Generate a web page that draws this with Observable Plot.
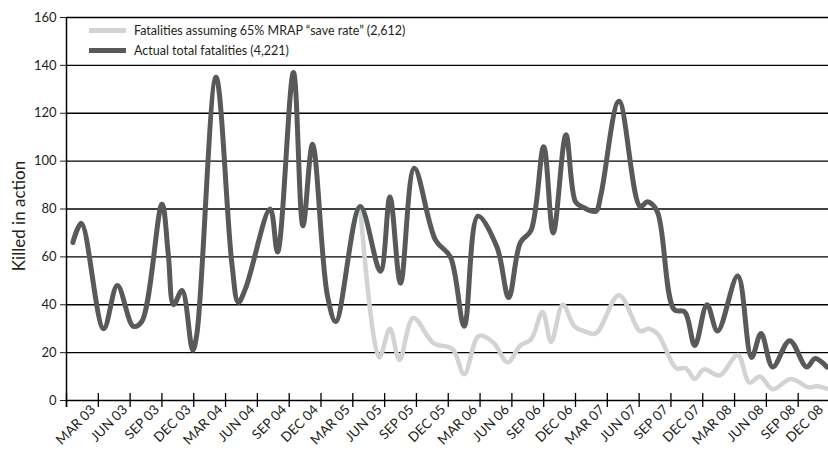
<!DOCTYPE html>
<html>
<head>
<meta charset="utf-8">
<script src="https://cdn.jsdelivr.net/npm/d3@7"></script>
<script src="https://cdn.jsdelivr.net/npm/@observablehq/plot@0.6"></script>
<style>
  html, body { margin: 0; padding: 0; background: #fff; }
  #wrap { position: relative; width: 828px; height: 450px; font-family: Lato, "Open Sans", sans-serif; color: #231f20; }
  #ytitle { position: absolute; left: 18px; top: 216px; transform: translate(-50%, -50%) rotate(-90deg); font-size: 17px; white-space: nowrap; }
  #legend { position: absolute; left: 89px; top: 20px; font-size: 12.5px; }
  .row { display: flex; align-items: center; height: 20.5px; white-space: nowrap; }
  .sw { width: 37px; height: 5px; margin-right: 8px; }
</style>
</head>
<body>
<div id="wrap">
  <div id="chart"></div>
  <div id="ytitle">Killed in action</div>
  <div id="legend">
    <div class="row"><div class="sw" style="background:#d1d3d4"></div><span>Fatalities assuming 65% MRAP “save rate” (2,612)</span></div>
    <div class="row"><div class="sw" style="background:#58595b"></div><span>Actual total fatalities (4,221)</span></div>
  </div>
</div>
<script>
// month index: 0 = start of axis (Jan 2003 boundary), 3 = "MAR 03" label, ... 72 = "DEC 08"
const quarterLabels = ["MAR 03","JUN 03","SEP 03","DEC 03","MAR 04","JUN 04","SEP 04","DEC 04",
  "MAR 05","JUN 05","SEP 05","DEC 05","MAR 06","JUN 06","SEP 06","DEC 06",
  "MAR 07","JUN 07","SEP 07","DEC 07","MAR 08","JUN 08","SEP 08","DEC 08"];
const quarterTicks = d3.range(0, 73, 3);
const labelTicks = quarterTicks.slice(1);
const yTicks = [0, 20, 40, 60, 80, 100, 120, 140, 160];

// Actual total fatalities (dark line)
const actualMonth = [0.6,1.4,3.5,4.8,6.3,7.1,9.0,9.6,10.1,10.9,11.9,12.3,14.1,15.6,16.2,16.9,19.2,19.9,21.4,22.3,23.2,24.6,25.4,27.7,29.6,30.5,31.5,32.8,34.8,36.2,37.5,38.8,40.6,41.7,42.8,43.8,45.0,45.9,47.1,48.0,48.6,49.9,50.4,52.1,54.1,54.8,55.7,57.3,58.3,59.25,60.4,61.4,63.3,64.6,65.5,66.6,68.2,69.8,70.6,71.7];
const actualValue = [66,74,30,48,31,33,82,61,40,46,21,28,135,57,41,47,80,62,137,73,107,44,33,81,54,85,49,97,67,60,31,77,64,43,66,71,106,70,111,83,81,79,86,125,81,83,79,38,37,23,40,29,52,18,28,14,25,14,17.5,14];

// Fatalities assuming 65% MRAP "save rate" (light line)
const mrapMonth = [27.7,29.5,30.5,31.4,32.7,34.6,36.4,37.5,38.9,40.3,41.6,42.8,43.8,44.9,45.7,46.8,47.9,48.8,49.9,52.1,54.1,54.9,55.8,57.5,58.4,59.25,60.1,61.6,63.3,64.4,65.4,66.6,68.3,70.0,70.8,71.7];
const mrapValue = [81,18,30,17,34.5,24,21.5,11,27,24,16,23,25.5,37,24.5,40,31,29,28,44,29,30,27.5,13.5,13.5,9,13,10.5,19,7.5,10,4.7,9,5.5,6,5];

const actual = actualMonth.map((m, i) => ({m, v: actualValue[i]}));
const mrap = mrapMonth.map((m, i) => ({m, v: mrapValue[i]}));
const labelOf = new Map(labelTicks.map((t, i) => [t, quarterLabels[i]]));
const lastTick = labelTicks[labelTicks.length - 1];

const axisStyle = {tickFormat: d => labelOf.get(d), tickSize: 0, tickPadding: 6, tickRotate: -45, label: null, fontSize: 13.5, dy: 1};

const chart = Plot.plot({
  width: 828,
  height: 450,
  marginTop: 17,
  marginLeft: 66,
  marginRight: 0,
  marginBottom: 50,
  style: {fontFamily: "Lato, 'Open Sans', sans-serif", fontSize: "12px", color: "#231f20", background: "#fff", overflow: "visible"},
  x: {domain: [0, 72], range: [66, 829.5]},
  y: {domain: [0, 160]},
  marks: [
    Plot.ruleY(yTicks, {stroke: "#000", strokeWidth: 1.3}),
    Plot.ruleX([0], {stroke: "#000", strokeWidth: 1.5, insetBottom: -7}),
    Plot.ruleX(quarterTicks, {y1: 0, y2: 0, insetTop: -7, insetBottom: -7, stroke: "#000", strokeWidth: 1.3}),
    Plot.axisY({ticks: yTicks, tickSize: 6, tickPadding: 4, label: null, fontSize: 13}),
    Plot.axisX({...axisStyle, ticks: labelTicks.slice(0, -1), dx: -5}),
    Plot.axisX({...axisStyle, ticks: [lastTick], dx: -9}),
    Plot.lineY(mrap, {x: "m", y: "v", stroke: "#d1d3d4", strokeWidth: 4.5, curve: "catmull-rom", strokeLinejoin: "round"}),
    Plot.lineY(actual, {x: "m", y: "v", stroke: "#58595b", strokeWidth: 5, curve: "catmull-rom", strokeLinejoin: "round"})
  ]
});
document.getElementById("chart").appendChild(chart);
</script>
</body>
</html>
